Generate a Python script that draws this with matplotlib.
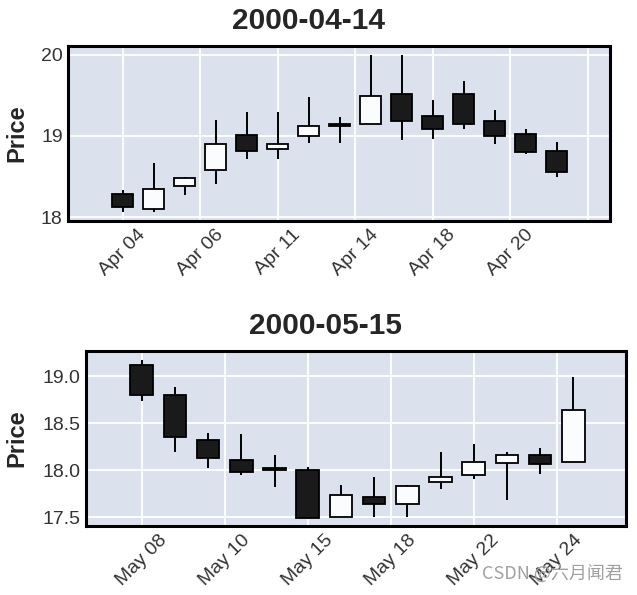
import matplotlib
matplotlib.use("Agg")
import matplotlib.pyplot as plt
import numpy as np

# --- data ---
title_top = "2000-04-14"
labels_top = ["Apr 04", "Apr 06", "Apr 11", "Apr 14", "Apr 18", "Apr 20", ""]
open_top = [18.29, 18.10, 18.39, 18.58, 19.01, 18.84, 19.00, 19.15, 19.15, 19.52, 19.25, 19.51, 19.18, 19.02, 18.82]
high_top = [18.33, 18.67, 18.50, 19.19, 19.29, 19.29, 19.48, 19.23, 19.99, 20.00, 19.44, 19.67, 19.32, 19.09, 18.93]
low_top = [18.06, 18.06, 18.27, 18.41, 18.71, 18.71, 18.91, 18.91, 19.15, 18.95, 18.96, 19.09, 18.90, 18.78, 18.50]
close_top = [18.12, 18.35, 18.48, 18.90, 18.81, 18.90, 19.12, 19.12, 19.49, 19.18, 19.08, 19.14, 19.00, 18.80, 18.56]

title_bot = "2000-05-15"
labels_bot = ["May 08", "May 10", "May 15", "May 18", "May 22", "May 24"]
open_bot = [19.12, 18.80, 18.32, 18.11, 18.02, 18.00, 17.50, 17.72, 17.64, 17.88, 17.95, 18.08, 18.16, 18.09]
high_bot = [19.17, 18.89, 18.40, 18.39, 18.16, 18.04, 17.84, 17.93, 17.84, 18.20, 18.28, 18.20, 18.24, 18.99]
low_bot = [18.74, 18.20, 18.03, 17.95, 17.82, 17.48, 17.50, 17.50, 17.50, 17.80, 17.91, 17.68, 17.96, 18.09]
close_bot = [18.80, 18.36, 18.13, 17.98, 18.00, 17.49, 17.74, 17.64, 17.83, 17.93, 18.09, 18.16, 18.07, 18.64]

plt.rcParams['font.family'] = ['Liberation Sans', 'DejaVu Sans']

UP = "#fbfcfe"
DOWN = "#1a1a1a"
FACE = "#dbe1ed"


def candles(ax, o, h, l, c, labels, title, xlim, ylim, yticks, yfmt, label_x):
    o, h, l, c = map(np.asarray, (o, h, l, c))
    x = np.arange(len(o))
    up = c >= o
    colors = np.where(up, UP, DOWN)
    ax.vlines(x, l, h, color="black", linewidth=1.4, zorder=2)
    ax.bar(x, np.maximum(np.abs(c - o), 0.012), bottom=np.minimum(o, c), width=0.68,
           color=colors, edgecolor="black", linewidth=1.3, zorder=3)
    ax.set_facecolor(FACE)
    ax.grid(True, color="white", linewidth=1.3, zorder=0)
    ax.set_axisbelow(True)
    ax.set_xticks(np.arange(len(labels)) * 2.5)
    ax.set_xticklabels(labels, rotation=45, ha="center", fontsize=14, color="#333333")
    ax.set_yticks(yticks)
    ax.set_yticklabels([yfmt.format(v) for v in yticks], fontsize=14, color="#333333")
    ax.tick_params(length=0, pad=4)
    ax.set_xlim(*xlim)
    ax.set_ylim(*ylim)
    ax.set_ylabel("Price", fontsize=17, fontweight="bold", color="#262626")
    ax.yaxis.set_label_coords(label_x, 0.5)
    ax.set_title(title, fontsize=21.5, fontweight="bold", color="#262626", pad=12, x=0.443)
    for s in ax.spines.values():
        s.set_color("black")
        s.set_linewidth(2.2)


fig = plt.figure(figsize=(6.37, 5.95), dpi=100)
ax1 = fig.add_axes([0.1072, 0.6294, 0.8506, 0.2940])
ax2 = fig.add_axes([0.1350, 0.1164, 0.8473, 0.2936])

candles(ax1, open_top, high_top, low_top, close_top, labels_top, title_top,
        (-1.75, 15.72), (17.96, 20.11), [18, 19, 20], "{:.0f}", -0.074)
candles(ax2, open_bot, high_bot, low_bot, close_bot, labels_bot, title_bot,
        (-1.68, 14.58), (17.41, 19.27), [17.5, 18.0, 18.5, 19.0], "{:.1f}", -0.107)

fig.text(0.757, 0.028, "CSDN @六月闻君", fontsize=13, color="#a0a0a0",
         family=['Noto Sans CJK SC', 'DejaVu Sans'])

fig.savefig("out.png", dpi=100)
